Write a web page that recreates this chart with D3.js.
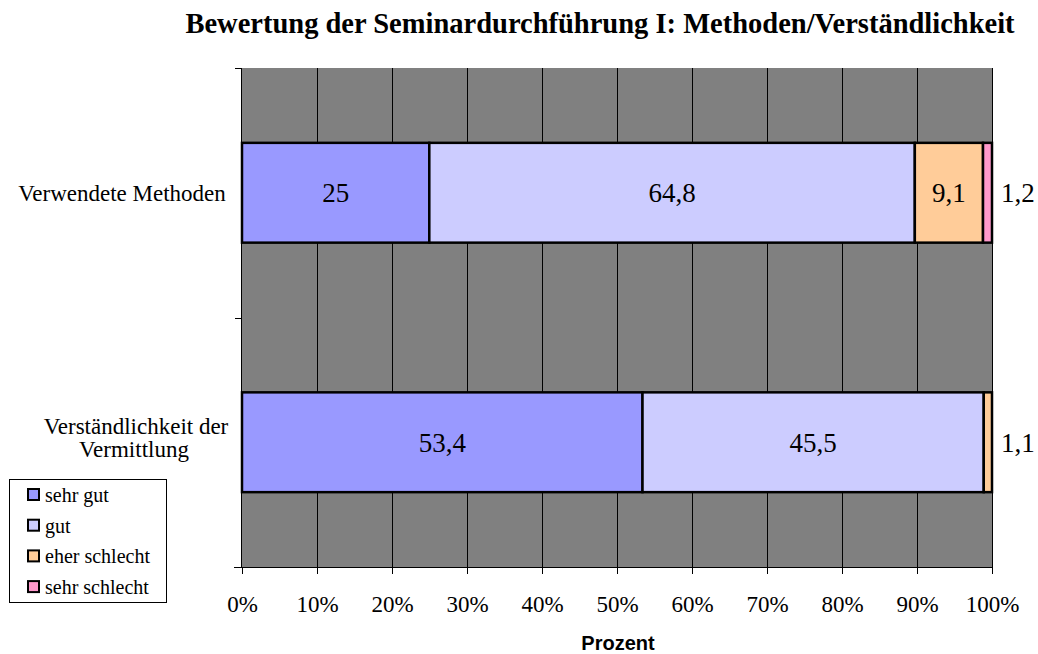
<!DOCTYPE html>
<html>
<head>
<meta charset="utf-8">
<script src="https://cdn.jsdelivr.net/npm/d3@7"></script>
<style>
	body { margin: 0; background: #fff; }
	svg { display: block; }
</style>
</head>
<body>
<svg width="1038" height="654"></svg>
<script>
'use strict';
// chart data
let aCategories = ["Verwendete Methoden", "Verständlichkeit der Vermittlung"]
let aSeries = ["sehr gut", "gut", "eher schlecht", "sehr schlecht"]
let aSehrGut = [25, 53.4]
let aGut = [64.8, 45.5]
let aEherSchlecht = [9.1, 1.1]
let aSehrSchlecht = [1.2, 0]
let aTicks = [0, 10, 20, 30, 40, 50, 60, 70, 80, 90, 100]
let aColors = ["#9999ff", "#ccccff", "#ffcc99", "#ff99cc"]

let eSvg = d3.select("svg")
let m = {left: 242, right: 992, top: 68, bottom: 567}
let sSerif = "Liberation Serif, Times New Roman, serif"

// rows for stacking, normalised to 100%
let tRows = aCategories.map((c, i) => {
	let vals = [aSehrGut[i], aGut[i], aEherSchlecht[i], aSehrSchlecht[i]]
	let tot = d3.sum(vals)
	let r = {cat: c, tot: tot}
	aSeries.forEach((s, j) => { r[s] = vals[j] })
	return r})

let stack = d3.stack().keys(aSeries)
	.value((d, k) => d[k] / d.tot * 100)
let aStacked = stack(tRows)

let x = d3.scaleLinear().domain([0, 100]).range([m.left, m.right])
let y = d3.scaleBand().domain(aCategories).range([m.top, m.bottom])

// plot background
eSvg.append("rect")
	.attr("x", m.left).attr("y", m.top)
	.attr("width", m.right - m.left).attr("height", m.bottom - m.top)
	.attr("fill", "#808080")

// gridlines
eSvg.append("g").selectAll("line")
	.data(aTicks.slice(1))
	.join("line")
	.attr("x1", d => Math.round(x(d)) + 0.5).attr("x2", d => Math.round(x(d)) + 0.5)
	.attr("y1", m.top).attr("y2", m.bottom)
	.attr("stroke", "#000").attr("stroke-width", 1)

// bars
let barH = y.bandwidth() * 0.4
let eLayers = eSvg.append("g").selectAll("g")
	.data(aStacked)
	.join("g")
	.attr("fill", (d, i) => aColors[i])

eLayers.selectAll("rect")
	.data(d => d.filter(s => s[1] - s[0] > 0))
	.join("rect")
	.attr("x", d => x(d[0]))
	.attr("width", d => x(d[1]) - x(d[0]))
	.attr("y", d => y(d.data.cat) + (y.bandwidth() - barH) / 2)
	.attr("height", barH)
	.attr("stroke", "#000").attr("stroke-width", 2.5)

// value labels
let aLabels = []
aStacked.forEach(layer => {
	layer.forEach(s => {
		let v = s.data[layer.key]
		if (v > 0) aLabels.push({v: v, x0: s[0], x1: s[1], cat: s.data.cat})})})

eSvg.append("g").selectAll("text")
	.data(aLabels)
	.join("text")
	.attr("x", d => (d.v < 3) ? x(100) + 9 : x((d.x0 + d.x1) / 2))
	.attr("y", d => y(d.cat) + y.bandwidth() / 2 + 9.5)
	.attr("text-anchor", d => (d.v < 3) ? "start" : "middle")
	.attr("font-family", sSerif)
	.attr("font-size", 27)
	.text(d => String(d.v).replace(".", ","))

// y axis
let eYAx = eSvg.append("g")
eYAx.append("line")
	.attr("x1", m.left - 0.5).attr("x2", m.left - 0.5)
	.attr("y1", m.top).attr("y2", m.bottom)
	.attr("stroke", "#000")
eYAx.selectAll("line.tk")
	.data([m.top, (m.top + m.bottom) / 2, m.bottom])
	.join("line").attr("class", "tk")
	.attr("x1", m.left - 7).attr("x2", m.left)
	.attr("y1", d => Math.round(d) + 0.5).attr("y2", d => Math.round(d) + 0.5)
	.attr("stroke", "#000")

// category labels
let aCatLines = [
	[{t: "Verwendete Methoden", x: 122}],
	[{t: "Verständlichkeit der", x: 136}, {t: "Vermittlung", x: 134}]]
eSvg.append("g").selectAll("text")
	.data(aCategories)
	.join("text")
	.attr("text-anchor", "middle")
	.attr("font-family", sSerif)
	.attr("font-size", 23)
	.each(function(c, ci) {
		let lines = aCatLines[ci]
		let cy = y(c) + y.bandwidth() / 2
		d3.select(this).selectAll("tspan")
			.data(lines)
			.join("tspan")
			.attr("x", l => l.x)
			.attr("y", (l, i) => cy + 8 - (lines.length - 1) * 5 + (i - (lines.length - 1) / 2) * 23)
			.text(l => l.t)})

// x axis
let xAxis = d3.axisBottom(x)
	.tickValues(aTicks)
	.tickSize(7)
	.tickFormat(d => d + "%")
let eXAx = eSvg.append("g")
	.attr("transform", `translate(0,${m.bottom})`)
	.call(xAxis)
eXAx.select(".domain").attr("d", `M${m.left - 8},0.5H${m.right}`).attr("stroke", "#000")
eXAx.selectAll("text")
	.attr("font-family", sSerif)
	.attr("font-size", 23)
	.attr("fill", "#000")
	.attr("dy", null)
	.attr("y", 45)

// title
eSvg.append("text")
	.attr("x", 600).attr("y", 33)
	.attr("text-anchor", "middle")
	.attr("font-family", sSerif)
	.attr("font-weight", "bold")
	.attr("font-size", 28.5)
	.text("Bewertung der Seminardurchführung I: Methoden/Verständlichkeit")

// x axis title
eSvg.append("text")
	.attr("x", 618).attr("y", 650)
	.attr("text-anchor", "middle")
	.attr("font-family", "Liberation Sans, Arial, sans-serif")
	.attr("font-weight", "bold")
	.attr("font-size", 20)
	.text("Prozent")

// legend
let eLeg = eSvg.append("g")
eLeg.append("rect")
	.attr("x", 9.5).attr("y", 479.5).attr("width", 157).attr("height", 123)
	.attr("fill", "#fff").attr("stroke", "#000")
let eItems = eLeg.selectAll("g.it")
	.data(aSeries)
	.join("g").attr("class", "it")
	.attr("transform", (d, i) => `translate(0,${495 + i * 30.7})`)
eItems.append("rect")
	.attr("x", 28).attr("y", -6).attr("width", 11).attr("height", 11)
	.attr("fill", (d, i) => aColors[i])
	.attr("stroke", "#000").attr("stroke-width", 2)
eItems.append("text")
	.attr("x", 45).attr("y", 7)
	.attr("font-family", sSerif)
	.attr("font-size", 20)
	.text(d => d)
</script>
</body>
</html>
